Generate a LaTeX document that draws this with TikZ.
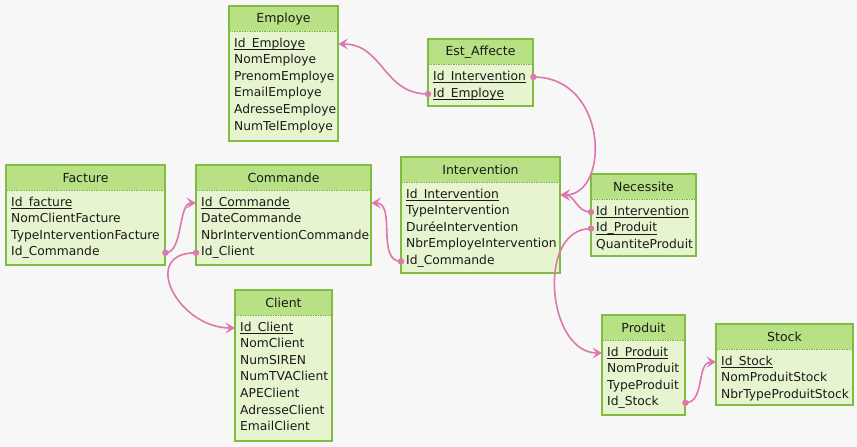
\documentclass[tikz,border=0pt]{standalone}
\usepackage{fontspec}
\setmainfont{DejaVu Sans}
\usetikzlibrary{arrows.meta}
\definecolor{bgc}{HTML}{F7F7F7}
\definecolor{bodyc}{HTML}{E6F5D0}
\definecolor{headc}{HTML}{B8E186}
\definecolor{bordc}{HTML}{7FBC41}
\definecolor{linkc}{HTML}{DE77AE}
\definecolor{txtc}{HTML}{1A1A1A}
\newcommand\keyu[1]{\setbox0\hbox{#1}\rlap{\rule[-3pt]{\wd0}{0.8pt}}\box0}
\tikzset{
  tblbody/.style={fill=bodyc},
  tblhead/.style={fill=headc},
  tblsep/.style={draw=bordc!80!gray, line width=0.8pt, dash pattern=on 1.5pt off 1pt},
  tblframe/.style={draw=bordc, line width=1.6pt},
  ttl/.style={inner sep=0pt, text=txtc, font=\fontsize{12.5}{14}\selectfont},
  rowtxt/.style={anchor=west, inner xsep=5pt, inner ysep=0pt, text height=9pt, text depth=3pt, align=left, text=txtc, font=\fontsize{12.3}{14}\selectfont},
  link/.style={draw=linkc, line width=1.6pt},
  linkarr/.style={link, -{Stealth[length=9.5pt,width=11pt,inset=4pt]}},
  linkdot/.style={fill=linkc}
}
\newcommand\ertbl[6]{%
  \path[tblbody] (#2,#3) rectangle ++(#4,#5);
  \path[tblhead] (#2,#3) rectangle ++(#4,25);
  \draw[tblsep] (#2,#3+25) -- ++(#4,0);
  \draw[tblframe] (#2,#3) rectangle ++(#4,#5);
  \node[ttl] (#1) at (#2+#4/2,#3+13) {#6};
}
\newcommand\errow[5]{%
  \pgfmathsetmacro\ertw{#4-10}%
  \node[rowtxt, text width=\ertw pt] (#1) at (#2,#3) {#5};
}
\begin{document}
\begin{tikzpicture}[x=1pt,y=-1pt]
\useasboundingbox[fill=bgc] (0,0) rectangle (857,447);

% Employe
\ertbl{emp}{229}{6}{109}{135}{Employe}
\errow{emp-1}{229}{44}{109}{\keyu{Id\_Employe}}
\errow{emp-2}{229}{60.6}{109}{NomEmploye}
\errow{emp-3}{229}{77.2}{109}{PrenomEmploye}
\errow{emp-4}{229}{93.8}{109}{EmailEmploye}
\errow{emp-5}{229}{110.4}{109}{AdresseEmploye}
\errow{emp-6}{229}{127}{109}{NumTelEmploye}

% Est_Affecte
\ertbl{est}{428}{39}{105}{67}{Est\_Affecte}
\errow{est-1}{428}{77}{105}{\keyu{Id\_Intervention}}
\errow{est-2}{428}{94}{105}{\keyu{Id\_Employe}}

% Facture
\ertbl{fac}{6}{165}{159}{100}{Facture}
\errow{fac-1}{6}{203}{159}{\keyu{Id\_facture}}
\errow{fac-2}{6}{219.6}{159}{NomClientFacture}
\errow{fac-3}{6}{236.2}{159}{TypeInterventionFacture}
\errow{fac-4}{6}{252.8}{159}{Id\_Commande}

% Commande
\ertbl{cmd}{196}{165}{175}{100}{Commande}
\errow{cmd-1}{196}{203}{175}{\keyu{Id\_Commande}}
\errow{cmd-2}{196}{219.6}{175}{DateCommande}
\errow{cmd-3}{196}{236.2}{175}{NbrInterventionCommande}
\errow{cmd-4}{196}{252.8}{175}{Id\_Client}

% Intervention
\ertbl{int}{401}{157}{159}{116}{Intervention}
\errow{int-1}{401}{195}{159}{\keyu{Id\_Intervention}}
\errow{int-2}{401}{211.6}{159}{TypeIntervention}
\errow{int-3}{401}{228.2}{159}{DuréeIntervention}
\errow{int-4}{401}{244.8}{159}{NbrEmployeIntervention}
\errow{int-5}{401}{261.4}{159}{Id\_Commande}

% Necessite
\ertbl{nec}{591}{174}{105}{82}{Necessite}
\errow{nec-1}{591}{212}{105}{\keyu{Id\_Intervention}}
\errow{nec-2}{591}{228.6}{105}{\keyu{Id\_Produit}}
\errow{nec-3}{591}{245.2}{105}{QuantiteProduit}

% Client
\ertbl{cli}{235}{290}{97}{151}{Client}
\errow{cli-1}{235}{328}{97}{\keyu{Id\_Client}}
\errow{cli-2}{235}{344.6}{97}{NomClient}
\errow{cli-3}{235}{361.2}{97}{NumSIREN}
\errow{cli-4}{235}{377.8}{97}{NumTVAClient}
\errow{cli-5}{235}{394.4}{97}{APEClient}
\errow{cli-6}{235}{411}{97}{AdresseClient}
\errow{cli-7}{235}{427.6}{97}{EmailClient}

% Produit
\ertbl{prod}{602}{315}{83}{100}{Produit}
\errow{prod-1}{602}{353}{83}{\keyu{Id\_Produit}}
\errow{prod-2}{602}{369.6}{83}{NomProduit}
\errow{prod-3}{602}{386.2}{83}{TypeProduit}
\errow{prod-4}{602}{402.8}{83}{Id\_Stock}

% Stock
\ertbl{stk}{716}{324}{137}{81}{Stock}
\errow{stk-1}{716}{362}{137}{\keyu{Id\_Stock}}
\errow{stk-2}{716}{378.6}{137}{NomProduitStock}
\errow{stk-3}{716}{395.2}{137}{NbrTypeProduitStock}

% Connectors
\draw[linkarr] (est-2.west) .. controls +(-45,0) and +(45,0) .. (emp-1.east);
\draw[linkarr] (est-1.east) .. controls +(75,0) and +(50,0) .. (int-1.east);
\draw[linkarr] (nec-1.west) .. controls +(-15,0) and +(15,0) .. (int-1.east);
\draw[linkarr] (nec-2.west) .. controls +(-55,0) and +(-55,0) .. (prod-1.west);
\draw[linkarr] (prod-4.east) .. controls +(20,0) and +(-20,0) .. (stk-1.west);
\draw[linkarr] (int-5.west) .. controls +(-25,0) and +(25,0) .. (cmd-1.east);
\draw[linkarr] (fac-4.east) .. controls +(18,0) and +(-18,0) .. (cmd-1.west);
\draw[linkarr] (cmd-4.west) .. controls +(-57,0) and +(-57,0) .. (cli-1.west);

\foreach \p in {est-2.west, est-1.east, nec-1.west, nec-2.west, prod-4.east, int-5.west, fac-4.east, cmd-4.west}
  \fill[linkdot] (\p) circle (3.2pt);
\end{tikzpicture}
\end{document}
